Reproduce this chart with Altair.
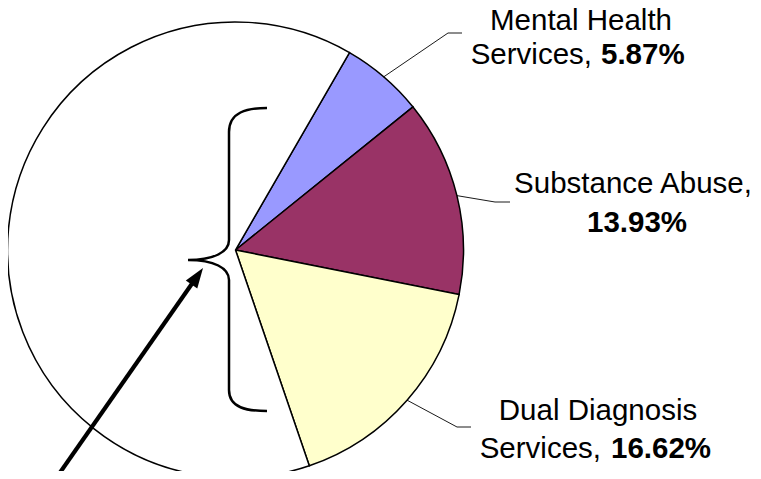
import math
import altair as alt
import pandas as pd

# ---- data ----
categories = ["Mental Health Services", "Substance Abuse", "Dual Diagnosis Services", "Other"]
values = [5.87, 13.93, 16.62, 63.58]
colors = ["#9999FF", "#993366", "#FFFFCC", "#FFFFFF"]
name_lines = ["Mental Health", "Substance Abuse,", "Dual Diagnosis"]
pct_labels = ["5.87%", "13.93%", "16.62%"]

# ---- layout (page pixel coordinates) ----
W, H = 745, 463
OX, OY = 8, 8
CX, CY, R = 235.5, 250.0, 228.0
START = math.radians(30)
FONT = "Liberation Sans"
FS = 29.5

xs = alt.Scale(domain=[OX, OX + W], nice=False, zero=False)
ys = alt.Scale(domain=[OY + H, OY], nice=False, zero=False)

pie = pd.DataFrame({"cat": categories, "value": values, "order": list(range(len(values)))})

arc = alt.Chart(pie).mark_arc(radius=R, stroke="black", strokeWidth=1.5).encode(
    theta=alt.Theta("value:Q", stack=True,
                    scale=alt.Scale(range=[START, START + 2 * math.pi])),
    color=alt.Color("cat:N", scale=alt.Scale(domain=categories, range=colors), legend=None),
    order=alt.Order("order:Q"),
    x=alt.XDatum(CX, type="quantitative", scale=xs, axis=None),
    y=alt.YDatum(CY, type="quantitative", scale=ys, axis=None),
)

# leader lines: start at each slice's mid-angle on the rim
elbows = [(448, 33), (495, 202), (457, 427)]
ends = [(462, 33), (510, 202), (471, 427)]
rows = []
total = sum(values)
cum = 0.0
for i in range(3):
    a = START + 2 * math.pi * (cum + values[i] / 2) / total
    cum += values[i]
    sx, sy = CX + R * math.sin(a), CY - R * math.cos(a)
    for j, (px, py) in enumerate([(sx, sy), elbows[i], ends[i]]):
        rows.append({"id": i, "k": j, "x": px, "y": py})
lead_df = pd.DataFrame(rows)
leaders = alt.Chart(lead_df).mark_line(color="black", strokeWidth=0.9).encode(
    x=alt.X("x:Q", scale=xs, axis=None),
    y=alt.Y("y:Q", scale=ys, axis=None),
    detail="id:N",
    order="k:Q",
)

def text_layer(df, align, bold):
    return alt.Chart(df).mark_text(
        align=align, baseline="alphabetic", font=FONT, fontSize=FS,
        fontWeight="bold" if bold else "normal", color="black"
    ).encode(
        x=alt.X("x:Q", scale=xs, axis=None),
        y=alt.Y("y:Q", scale=ys, axis=None),
        text="t:N",
    )

t_center = pd.DataFrame({"t": name_lines, "x": [581, 633, 598], "y": [30, 193, 420]})
t_right = pd.DataFrame({"t": ["Services,", "Services,"], "x": [592, 601], "y": [64, 458]})
t_bleft = pd.DataFrame({"t": [pct_labels[0], pct_labels[2]], "x": [601, 611], "y": [64, 458]})
t_bcenter = pd.DataFrame({"t": [pct_labels[1]], "x": [637], "y": [232]})

# curly brace as a custom symbol path
BX, BY, BS = 228.0, 260.0, 160.0
brace_pts = [
    ("M", [(267, 108)]),
    ("C", [(247, 108), (229, 112), (229, 132)]),
    ("L", [(229, 240)]),
    ("C", [(229, 252), (214, 260), (188, 260)]),
    ("C", [(214, 260), (229, 268), (229, 280)]),
    ("L", [(229, 390)]),
    ("C", [(229, 408), (247, 411), (267, 411)]),
]
def fmt(p):
    return f"{(p[0]-BX)/BS:.4f},{(p[1]-BY)/BS:.4f}"
brace_path = " ".join(c + " " + " ".join(fmt(p) for p in pts) for c, pts in brace_pts)
brace_df = pd.DataFrame({"x": [BX], "y": [BY]})
brace = alt.Chart(brace_df).mark_point(
    shape=brace_path, size=(2 * BS) ** 2, filled=False, stroke="black",
    strokeWidth=2.5, opacity=1
).encode(x=alt.X("x:Q", scale=xs, axis=None), y=alt.Y("y:Q", scale=ys, axis=None))

# arrow
TIP = (203.0, 268.0)
TAIL = (52.0, 484.0)
dx, dy = TIP[0] - TAIL[0], TIP[1] - TAIL[1]
L = math.hypot(dx, dy)
ux, uy = dx / L, dy / L
HEAD = 20.0
base = (TIP[0] - ux * HEAD, TIP[1] - uy * HEAD)
hc = (TIP[0] - ux * HEAD / 2, TIP[1] - uy * HEAD / 2)
ang = math.degrees(math.atan2(dx, -dy))

shaft_df = pd.DataFrame({"x": [TAIL[0]], "y": [TAIL[1]], "x2": [base[0] + ux], "y2": [base[1] + uy]})
shaft = alt.Chart(shaft_df).mark_rule(color="black", strokeWidth=4.2).encode(
    x=alt.X("x:Q", scale=xs, axis=None), y=alt.Y("y:Q", scale=ys, axis=None),
    x2="x2:Q", y2="y2:Q",
)
head_df = pd.DataFrame({"x": [hc[0]], "y": [hc[1]]})
head = alt.Chart(head_df).mark_point(
    shape="M0,-1 L0.7,1 L-0.7,1 Z", size=HEAD ** 2, filled=True, color="black",
    opacity=1, angle=ang, strokeWidth=0.5
).encode(x=alt.X("x:Q", scale=xs, axis=None), y=alt.Y("y:Q", scale=ys, axis=None))

chart = alt.layer(
    arc, leaders, brace, shaft, head,
    text_layer(t_center, "center", False),
    text_layer(t_right, "right", False),
    text_layer(t_bleft, "left", True),
    text_layer(t_bcenter, "center", True),
).properties(
    width=W, height=H, padding=0, autosize=alt.AutoSizeParams(type="none"),
    background="white",
).configure_view(strokeWidth=0)

chart.save("out.html", embed_options={"renderer": "svg", "actions": False})
